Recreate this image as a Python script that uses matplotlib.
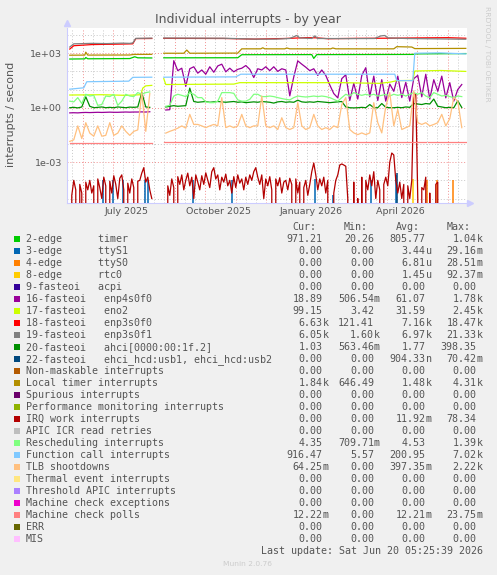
import matplotlib
matplotlib.use("Agg")
import matplotlib.pyplot as plt
from matplotlib.patches import Rectangle
import matplotlib.ticker as mticker
import numpy as np
import pandas as pd

nan = np.nan
W, H = 497, 575

# ---------------- data ----------------
# noisy series sampled every 4 days from this date (NaN = gap in data)
grid4_start = "2025-05-19"
enp4s0f0 = [0.52, 0.53, 0.52, 0.54, 0.55, 0.54, 0.55, 0.56, 0.55, 0.56,
            0.57, 0.56, 0.56, 0.57, 0.58, 0.57, 0.58, 0.58, 0.59, 0.58,
            0.6, nan, nan, nan, 0.75, 0.78, 390, 110, 150, 15,
            140, 180, 80, 120, 70, 180, 90, 200, 250, 95,
            150, 95, 130, 150, 210, 130, 46, 140, 120, 180,
            110, 180, 100, 140, 120, 4.5, 50, 380, 250, 170,
            110, 140, 60, 120, 60, 18, 6, 3.5, 40, 65,
            2.5, 22, 3, 60, 160, 4, 55, 2.5, 35, 2.3,
            20, 8, 55, 3.6, 25, 2.3, 40, 60, 4, 70,
            3, 35, 8, 55, 3.5, 24, 2.3, 10, 19]
tlb = [0.014, 0.017, 0.1, 0.02, 0.15, 0.04, 0.027, 0.1, 0.027, 0.03,
       0.15, 0.03, 0.04, 0.1, 0.05, 0.03, 0.05, 0.06, 6.8, 0.05,
       6.0, nan, nan, nan, 0.04, 0.05, 0.06, 0.075, 0.1, 0.075,
       0.43, 0.12, 0.12, 0.1, 0.08, 0.1, 0.12, 0.1, 3.6, 0.08,
       0.1, 0.08, 0.1, 0.43, 0.1, 0.08, 0.1, 0.1, 4.4, 0.1,
       0.08, 0.1, 0.063, 0.28, 0.08, 0.063, 0.08, 1.9, 0.1, 0.063,
       0.08, 0.43, 0.1, 0.063, 0.08, 0.063, 0.1, 0.08, 1.5, 3.6,
       0.063, 0.041, 0.033, 0.041, 0.033, 0.041, 1.9, 0.15, 0.041, 1.2,
       6.8, 0.1, 0.8, 0.063, 0.08, 0.1, 8.4, 0.15, 0.12, 0.15,
       0.1, 0.12, 0.15, 0.43, 0.1, 0.25, 3.6, 2.3, 0.08]
resched = [2.3, 2.1, 3.6, 1.7, 5.5, 4.4, 4.8, 1.35, 1.5, 4.4,
           4.1, 5.5, 1.35, 2.3, 5.5, 4.4, 4.1, 6.8, 5.5, 6.8,
           7.4, nan, nan, nan, 1.2, 1.35, 4.4, 5.5, 4.8, 4.1,
           6.8, 5.5, 3.6, 3.6, 2.1, 1.9, 1.9, 2.3, 6.8, 6.8,
           6.8, 6.2, 2.7, 2.3, 2.3, 2.9, 5.5, 5.5, 4.1, 4.1,
           4.4, 4.1, 3.6, 3.2, 2.9, 2.7, 3.6, 4.4, 4.1, 3.9,
           4.1, 4.4, 4.1, 4.4, 4.1, 3.6, 2.9, 2.3, 3.6, 5.5,
           4.4, 6.8, 5.5, 4.8, 5.5, 4.8, 5.5, 4.4, 4.8, 5.5,
           4.4, 5.5, 4.8, 5.5, 4.4, 5.5, 6.8, 5.5, 6.8, 4.4,
           3.6, 6.8, 5.5, 4.4, 4.8, 4.1, 3.6, 4.4, 4.1]
ahci = [1.0, 1.05, 0.98, 1.1, 4.0, 1.2, 1.0, 1.05, 1.1, 1.0,
        1.05, 1.0, 1.1, 1.05, 1.0, 1.08, 1.05, 1.1, 6.8, 1.1,
        1.05, nan, nan, nan, 1.1, 1.2, 1.3, 1.2, 1.25, 1.3,
        12, 2.2, 2.0, 2.1, 2.2, 2.0, 2.1, 2.2, 2.1, 2.0,
        2.1, 2.2, 2.0, 2.1, 1.9, 2.0, 2.1, 2.0, 2.2, 2.1,
        2.0, 1.8, 2.1, 2.2, 2.0, 2.1, 2.0, 2.6, 2.1, 2.0,
        2.1, 2.0, 2.2, 2.1, 2.0, 1.9, 2.0, 2.1, 2.2, 1.1,
        1.0, 0.98, 1.0, 1.05, 1.0, 1.5, 1.0, 1.0, 1.7, 1.05,
        1.0, 1.0, 1.05, 1.0, 1.1, 1.05, 1.7, 1.6, 1.5, 1.7,
        1.6, 3.0, 1.2, 1.1, 1.0, 1.05, 1.0, 2.4, 1.03]

# IRQ work sampled every 2 days
grid2_start = "2025-05-19"
irq_work = [0, 1.5e-5, 1e-4, 3e-5, 0, 6e-5, 2e-5, 0, 8e-5, 3e-5,
            1e-4, 2e-5, 5e-5, 0, 1.2e-4, 4e-5, 1e-5, 1.5e-4, 5e-5, 0,
            9e-5, 2e-5, 1.8e-4, 6e-5, 1e-5, 1.3e-4, 2e-4, 3e-5, 0, 7e-5,
            2e-5, 1.2e-4, 4e-5, 0, 9e-5, 1e-4, 2.5e-4, 5e-4, 8e-5, 1.5e-4,
            3e-5, 1e-5, nan, nan, nan, nan, nan, nan, 0, 5e-5,
            1.5e-5, 1.2e-4, 4e-5, 0, 1.6e-4, 6e-5, 2e-4, 3e-5, 1e-4, 2.5e-4,
            5e-5, 1.5e-4, 1e-5, 2e-4, 8e-5, 3e-5, 1.8e-4, 6e-5, 2.6e-4, 1e-4,
            4e-5, 3e-4, 5e-4, 1.2e-4, 2e-4, 3e-5, 1.5e-4, 8e-5, 2.2e-4, 5e-5,
            1e-4, 2e-5, 1.6e-4, 4e-5, 2e-4, 7e-5, 1.2e-4, 3e-5, 1.5e-4, 6e-5,
            2e-4, 1e-4, 3e-4, 5e-4, 1.5e-4, 6e-5, 2e-4, 1e-5, 1.2e-4, 5e-5,
            1.6e-4, 3e-5, 0, 1.2e-4, 5e-5, 1.4e-4, 2e-5, 8e-5, 1e-4, 3e-5,
            1.3e-4, 6e-5, 0, 1.2e-4, 2e-5, 8e-5, 0, 4e-5, 1e-4, 1.5e-5,
            6e-5, 3e-4, 9e-4, 2e-4, 3e-5, 1.2e-4, 5e-5, 1.5e-4, 2e-5, 1e-4,
            0, 0, 2e-5, 1e-4, 2e-4, 7e-4, 8e-4, 7e-4, 6e-4, 1e-5,
            0, 0, 8e-5, 0, 1e-5, 0, 1.5e-4, 0, 1e-4, 3e-5,
            2e-4, 5e-5, 3e-4, 1e-5, 1e-4, 3e-5, 0, 6e-5, 1.5e-4, 5e-5,
            1e-3, 3.2e-3, 2.5e-3, 1e-4, 2e-5, 8e-5, 1e-5, 6e-5, 0, 5e-5,
            1e-5, 1e-4, 6.0, 5.5, 1e-5, 0, 4e-5, 3e-5, 1.5e-4, 0,
            2e-5, 0, 0, 6e-5, 8e-5, 0, 0, 0, 0, 0,
            0, 0, 0, 0, 0, 0, 0, 0]

# step-like series as (date, value) breakpoints
timer_dates = ["2025-05-19", "2025-06-03", "2025-06-04", "2025-06-06", "2025-07-18",
               "2025-07-23", "2025-07-26", "2025-08-09", "2025-08-15", "2025-08-21",
               "2025-11-03", "2025-11-07", "2026-01-16", "2026-01-18", "2026-01-21",
               "2026-04-27", "2026-04-30", "2026-06-19"]
timer_vals = [480, 490, 580, 495, 510, 640, 560, 550, nan, 560,
              565, 830, 840, 520, 840, 860, 920, 960]

local_dates = ["2025-05-19", "2025-06-03", "2025-06-04", "2025-06-06", "2025-07-18",
               "2025-07-22", "2025-08-09", "2025-08-15", "2025-08-21", "2025-09-10",
               "2025-09-13", "2025-09-16", "2025-11-03", "2025-11-07", "2025-11-26",
               "2025-11-28", "2025-11-30", "2025-12-20", "2025-12-22", "2025-12-25",
               "2026-02-04", "2026-02-06", "2026-02-09", "2026-04-08", "2026-04-11",
               "2026-04-26", "2026-04-29", "2026-06-19"]
local_vals = [780, 790, 1150, 790, 800, 860, 870, nan, 1000, 1000,
              1500, 1000, 1020, 1750, 1750, 2000, 1750, 1750, 1950, 1750,
              1750, 1950, 1750, 1750, 2300, 2200, 1800, 1850]

enp3s0f1_dates = ["2025-05-19", "2025-05-23", "2025-06-10", "2025-06-25", "2025-07-10",
                  "2025-07-18", "2025-07-21", "2025-07-24", "2025-08-09", "2025-08-15",
                  "2025-08-21", "2025-10-20", "2025-11-20", "2025-12-10", "2025-12-25",
                  "2026-01-01", "2026-01-04", "2026-01-16", "2026-01-19", "2026-01-22",
                  "2026-02-20", "2026-03-20", "2026-03-26", "2026-03-30", "2026-04-02",
                  "2026-04-20", "2026-05-20", "2026-06-19"]
enp3s0f1_vals = [2200, 3300, 3500, 3400, 3600, 3500, 3700, 6600, 6800, nan,
                 6900, 6700, 6000, 6000, 6500, 9500, 7000, 6500, 9000, 6500,
                 6400, 6500, 9000, 9500, 7000, 6500, 6200, 5900]

enp3s0f0_dates = ["2025-05-19", "2025-05-23", "2025-06-10", "2025-06-25", "2025-07-10",
                  "2025-07-21", "2025-07-24", "2025-08-09", "2025-08-15", "2025-08-21",
                  "2025-10-20", "2025-11-20", "2025-12-20", "2026-01-10", "2026-01-20",
                  "2026-02-01", "2026-03-01", "2026-04-15", "2026-05-05", "2026-06-01",
                  "2026-06-19"]
enp3s0f0_vals = [1700, 2600, 3000, 3100, 3200, 3300, 6400, 6500, nan, 6600,
                 6500, 6000, 6500, 7200, 7100, 6300, 6600, 6800, 7000, 7200,
                 6700]

eno2_dates = ["2025-05-19", "2025-06-20", "2025-07-15", "2025-07-29", "2025-07-31",
              "2025-08-03", "2025-08-09", "2025-08-15", "2025-08-21", "2025-08-23",
              "2025-10-30", "2025-11-05", "2026-02-15", "2026-03-25", "2026-04-05",
              "2026-04-11", "2026-04-27", "2026-04-29", "2026-05-25", "2026-06-19"]
eno2_vals = [5.0, 5.2, 4.8, 5.2, 12, 16, 17, nan, 40, 19,
             20, 24, 24, 22, 26, 31, 32, 105, 112, 100]

funccall_dates = ["2025-05-19", "2025-06-02", "2025-06-05", "2025-07-17", "2025-07-21",
                  "2025-08-09", "2025-08-15", "2025-08-21", "2025-11-01", "2025-11-06",
                  "2026-04-09", "2026-04-11", "2026-04-27", "2026-04-29", "2026-05-24",
                  "2026-06-19"]
funccall_vals = [10.5, 12.5, 27, 29, 47, 48, nan, 48, 50, 70,
                 70, 31, 31, 1000, 1050, 920]

mcpoll_dates = ["2025-05-19", "2025-08-09", "2025-08-15", "2025-08-21", "2026-05-10",
                "2026-05-11", "2026-05-12", "2026-06-19"]
mcpoll_vals = [0.0121, 0.0121, nan, 0.0122, 0.0122, nan, 0.0122, 0.0122]

# single-day spikes
ttys1_days = ["2025-06-21", "2025-07-01", "2025-07-11", "2025-08-02", "2025-08-05",
              "2025-09-19", "2025-10-28", "2026-01-19", "2026-02-06", "2026-03-16",
              "2026-04-10"]
ttys1_peak = [1.1e-4, 1.1e-4, 1.1e-4, 1.1e-4, 1.1e-4, 1.1e-4, 1.1e-4, 1.2e-4, 1.5e-5, 1.1e-4, 2e-4]
ttys0_days = ["2026-05-11", "2026-05-21", "2026-06-06"]
ttys0_peak = [1.1e-4, 1.1e-4, 1.1e-4]
rtc0_days = ["2026-04-27"]
rtc0_peak = [1.2e-4]
ehci_days = ["2026-04-11"]
ehci_peak = [2.5e-4]

# legend table
legend_labels = ["2-edge      timer", "3-edge      ttyS1", "4-edge      ttyS0",
                 "8-edge      rtc0", "9-fasteoi   acpi", "16-fasteoi   enp4s0f0",
                 "17-fasteoi   eno2", "18-fasteoi   enp3s0f0", "19-fasteoi   enp3s0f1",
                 "20-fasteoi   ahci[0000:00:1f.2]",
                 "22-fasteoi   ehci_hcd:usb1, ehci_hcd:usb2",
                 "Non-maskable interrupts", "Local timer interrupts", "Spurious interrupts",
                 "Performance monitoring interrupts", "IRQ work interrupts",
                 "APIC ICR read retries", "Rescheduling interrupts", "Function call interrupts",
                 "TLB shootdowns", "Thermal event interrupts", "Threshold APIC interrupts",
                 "Machine check exceptions", "Machine check polls", "ERR", "MIS"]
legend_colors = ["#00CC00", "#0066B3", "#FF8000", "#FFCC00", "#330099", "#990099",
                 "#CCFF00", "#FF0000", "#808080", "#008F00", "#00487D", "#B35A00",
                 "#B38F00", "#6B006B", "#8FB300", "#B30000", "#BEBEBE", "#80FF80",
                 "#80C9FF", "#FFC080", "#FFE680", "#AA80FF", "#EE00CC", "#FF8080",
                 "#666600", "#FFBFFF"]
cur_vals = ["971.21", "0.00", "0.00", "0.00", "0.00", "18.89", "99.15", "6.63k", "6.05k",
            "1.03", "0.00", "0.00", "1.84k", "0.00", "0.00", "0.00", "0.00", "4.35",
            "916.47", "64.25m", "0.00", "0.00", "0.00", "12.22m", "0.00", "0.00"]
min_vals = ["20.26", "0.00", "0.00", "0.00", "0.00", "506.54m", "3.42", "121.41", "1.60k",
            "563.46m", "0.00", "0.00", "646.49", "0.00", "0.00", "0.00", "0.00", "709.71m",
            "5.57", "0.00", "0.00", "0.00", "0.00", "0.00", "0.00", "0.00"]
avg_vals = ["805.77", "3.44u", "6.81u", "1.45u", "0.00", "61.07", "31.59", "7.16k", "6.97k",
            "1.77", "904.33n", "0.00", "1.48k", "0.00", "0.00", "11.92m", "0.00", "4.53",
            "200.95", "397.35m", "0.00", "0.00", "0.00", "12.21m", "0.00", "0.00"]
max_vals = ["1.04k", "29.16m", "28.51m", "92.37m", "0.00", "1.78k", "2.45k", "18.47k",
            "21.33k", "398.35", "70.42m", "0.00", "4.31k", "0.00", "0.00", "78.34", "0.00",
            "1.39k", "7.02k", "2.22k", "0.00", "0.00", "0.00", "23.75m", "0.00", "0.00"]

xtick_dates = ["2025-07-15", "2025-10-15", "2026-01-15", "2026-04-15"]
xtick_labels = ["July 2025", "October 2025", "January 2026", "April 2026"]
ytick_vals = [1e-3, 1, 1e3]
ytick_labels = ["1e-03", "1e+00", "1e+03"]

# ---------------- drawing ----------------
TXT = "#555555"
fig = plt.figure(figsize=(W / 100, H / 100), dpi=100, facecolor="#F0F0F0")
ax = fig.add_axes([67 / W, 1 - 202.7 / H, 400 / W, 174.7 / H])
ax.set_facecolor("white")
ax.set_yscale("log")
ax.set_ylim(10 ** -5.23, 10 ** 4.39)
end = pd.Timestamp("2026-06-20 05:25")
start = end - pd.Timedelta(days=400)
ax.set_xlim(start, end)

# grid
dot = (0, (1, 2))
for e in range(-5, 5):
    major = e % 3 == 0
    ax.axhline(10.0 ** e, color="#F09090" if major else "#C8C8C8", lw=0.7,
               ls=dot, zorder=1)
months = pd.date_range("2025-05-01", "2026-07-01", freq="MS")
ax.vlines(months + pd.Timedelta(days=10), 0, 1, transform=ax.get_xaxis_transform(),
          colors="#C8C8C8", lw=0.7, linestyles=dot, zorder=1)
ax.vlines(months + pd.Timedelta(days=20), 0, 1, transform=ax.get_xaxis_transform(),
          colors="#C8C8C8", lw=0.7, linestyles=dot, zorder=1)
ax.vlines(months, 0, 1, transform=ax.get_xaxis_transform(),
          colors="#F09090", lw=0.7, linestyles=dot, zorder=1)

d4 = pd.date_range(grid4_start, periods=len(enp4s0f0), freq="4D")
d2 = pd.date_range(grid2_start, periods=len(irq_work), freq="2D")
bottom = ax.get_ylim()[0]
lw = 0.9


def line(dates, vals, idx):
    ax.plot(pd.to_datetime(dates), vals, color=legend_colors[idx], lw=lw,
            zorder=2 + idx)


def spikes(days, peaks, idx):
    ax.vlines(pd.to_datetime(days), bottom, peaks, colors=legend_colors[idx],
              lw=1.1, zorder=2 + idx)


line(timer_dates, timer_vals, 0)
spikes(ttys1_days, ttys1_peak, 1)
spikes(ttys0_days, ttys0_peak, 2)
spikes(rtc0_days, rtc0_peak, 3)
line(d4, enp4s0f0, 5)
line(eno2_dates, eno2_vals, 6)
line(enp3s0f0_dates, enp3s0f0_vals, 7)
line(enp3s0f1_dates, enp3s0f1_vals, 8)
line(d4, ahci, 9)
spikes(ehci_days, ehci_peak, 10)
line(local_dates, local_vals, 12)
line(d2, irq_work, 15)
line(d4, resched, 17)
line(funccall_dates, funccall_vals, 18)
line(d4, tlb, 19)
line(mcpoll_dates, mcpoll_vals, 23)

ax.set_ylim(10 ** -5.23, 10 ** 4.39)
ax.set_xlim(start, end)

ax.yaxis.set_major_locator(mticker.FixedLocator(ytick_vals))
ax.yaxis.set_major_formatter(mticker.FixedFormatter(ytick_labels))
ax.yaxis.set_minor_locator(mticker.NullLocator())
ax.xaxis.set_major_locator(mticker.FixedLocator(
    matplotlib.dates.date2num(pd.to_datetime(xtick_dates))))
ax.xaxis.set_major_formatter(mticker.FixedFormatter(xtick_labels))
ax.xaxis.set_minor_locator(mticker.NullLocator())
ax.tick_params(axis="both", length=0, labelsize=6.8, labelcolor=TXT)
ax.tick_params(axis="y", pad=3.6)
ax.tick_params(axis="x", pad=3.0)

for s in ["top", "right"]:
    ax.spines[s].set_visible(False)
for s in ["left", "bottom"]:
    ax.spines[s].set_color("#CCCCFF")
    ax.spines[s].set_linewidth(0.8)
ax.plot([1.008], [0], marker=">", ms=4, color="#CCCCFF", transform=ax.transAxes,
        clip_on=False)
ax.plot([0], [1.03], marker="^", ms=4, color="#CCCCFF", transform=ax.transAxes,
        clip_on=False)


def ft(x, y, s, **kw):
    fig.text(x / W, 1 - y / H, s, **kw)


ft(247.5, 19, "Individual interrupts - by year", ha="center", va="center",
   fontsize=9, color=TXT)
ft(11, 114.5, "interrupts / second", ha="center", va="center", rotation=90,
   fontsize=8, color=TXT)
ft(486.7, 53.5, "RRDTOOL / TOBI OETIKER", ha="center", va="center", rotation=270,
   fontsize=5.4, color="#CCCCCC")

mono = dict(family="DejaVu Sans Mono", fontsize=7.2, color=TXT, va="center")
cols = [322.7, 374, 425.7, 476.7]
for head, cx in zip(["Cur:", "Min:", "Avg:", "Max:"], cols):
    ft(cx - 6, 227, head, ha="right", **mono)


def value(x, y, s):
    if s[-1].isalpha():
        ft(x, y, s[:-1], ha="right", **mono)
        ft(x, y, s[-1], ha="left", **mono)
    else:
        ft(x, y, s, ha="right", **mono)


for i, lab in enumerate(legend_labels):
    y = 239.3 + 12 * i
    fig.add_artist(Rectangle((14 / W, 1 - (y + 3) / H), 6 / W, 6 / H,
                             transform=fig.transFigure, facecolor=legend_colors[i],
                             edgecolor="none"))
    ft(26, y, lab, ha="left", **mono)
    for cx, col in zip(cols, [cur_vals, min_vals, avg_vals, max_vals]):
        value(cx, y, col[i])

ft(482.7, 551.3, "Last update: Sat Jun 20 05:25:39 2026", ha="right", **mono)
ft(247.7, 564, "Munin 2.0.76", ha="center", va="center", fontsize=5.4, color="#CCCCCC")

fig.savefig("out.png", dpi=100, facecolor=fig.get_facecolor())
